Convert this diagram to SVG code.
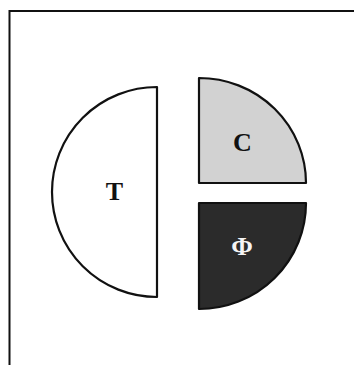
<svg xmlns="http://www.w3.org/2000/svg" width="354" height="365" viewBox="0 0 354 365">
<style>
.shape{stroke:#111;stroke-width:2.2;stroke-linejoin:round}
.lbl{font-family:"Liberation Serif","DejaVu Serif",serif;font-weight:bold;font-size:26px;text-anchor:middle}
</style>
<rect width="354" height="365" fill="#fff"/>
<g id="frame"><path d="M9.5,365 V11 H354" fill="none" stroke="#111" stroke-width="2"/></g>
<g id="node-T">
<path class="shape" d="M157,87 A105,105 0 0 0 157,297 Z" fill="#fff"/>
<text class="lbl" x="114.5" y="200" fill="#111">T</text>
</g>
<g id="node-C">
<path class="shape" d="M199,183 V78 A107,105 0 0 1 306,183 Z" fill="#d2d2d2"/>
<text class="lbl" x="242.5" y="151" fill="#111">C</text>
</g>
<g id="node-Phi">
<path class="shape" d="M199,203 H306 A107,106 0 0 1 199,309 Z" fill="#2b2b2b"/>
<text class="lbl" x="242" y="255" fill="#f4f4f4">Φ</text>
</g>
<g id="connectors"></g>
</svg>
